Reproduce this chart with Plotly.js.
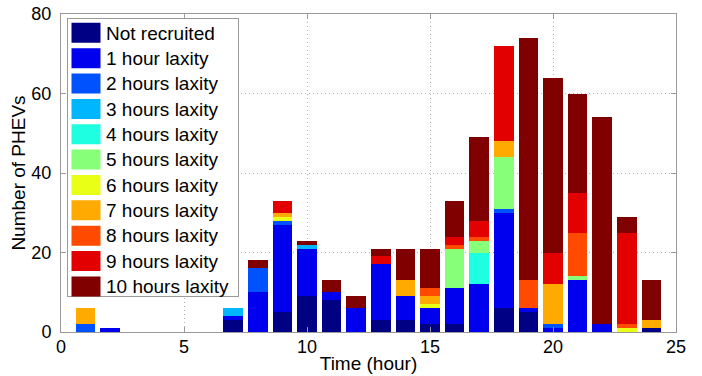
<!DOCTYPE html>
<html>
<head>
<meta charset="utf-8">
<script src="https://cdn.plot.ly/plotly-3.0.1.min.js"></script>
<style>
  html, body { margin: 0; padding: 0; background: #fff; }
  #chart { width: 702px; height: 376px; }
</style>
</head>
<body>
<div id="chart"></div>
<script>
// Hours 1..24
const hours = [1,2,3,4,5,6,7,8,9,10,11,12,13,14,15,16,17,18,19,20,21,22,23,24];

const seriesNames = ["Not recruited","1 hour laxity","2 hours laxity","3 hours laxity","4 hours laxity",
  "5 hours laxity","6 hours laxity","7 hours laxity","8 hours laxity","9 hours laxity","10 hours laxity"];

const notRecruited = [0,0,0,0,0,0,3,0,5,9,8,0,3,3,2,2,0,6,5,0,0,0,0,1];
const lax1  = [0,1,0,0,0,0,1,10,22,12,2,6,14,6,4,9,12,24,1,1,13,2,0,0];
const lax2  = [2,0,0,0,0,0,0,6,1,0,0,0,0,0,0,0,0,1,0,1,0,0,0,0];
const lax3  = [0,0,0,0,0,0,2,0,0,1,0,0,0,0,0,0,0,0,0,0,0,0,0,0];
const lax4  = [0,0,0,0,0,0,0,0,0,0,0,0,0,0,0,0,8,0,0,0,0,0,0,0];
const lax5  = [0,0,0,0,0,0,0,0,0,0,0,0,0,0,0,10,3,13,0,0,1,0,0,0];
const lax6  = [0,0,0,0,0,0,0,0,1,0,0,0,0,0,1,0,0,0,0,0,0,0,1,0];
const lax7  = [4,0,0,0,0,0,0,0,1,0,0,0,0,4,2,0,0,4,0,10,0,0,0,2];
const lax8  = [0,0,0,0,0,0,0,0,0,0,0,0,0,0,2,1,1,0,7,0,11,0,1,0];
const lax9  = [0,0,0,0,0,0,0,0,3,0,0,0,2,0,0,2,4,24,0,8,10,0,23,0];
const lax10 = [0,0,0,0,0,0,0,2,0,1,3,3,2,8,10,9,21,0,61,44,25,52,4,10];

const seriesValues = [notRecruited, lax1, lax2, lax3, lax4, lax5, lax6, lax7, lax8, lax9, lax10];

const colors = ["#000085","#0000EE","#0052FF","#00B6FF","#1EFFE2","#88FF78","#EAFF16",
  "#FFAA00","#FF4A00","#E20000","#800000"];

const xTicks = [0,5,10,15,20,25];
const yTicks = [0,20,40,60,80];

const traces = seriesNames.map((name, i) => ({
  type: "bar",
  name: name,
  x: hours,
  y: seriesValues[i],
  width: 0.8,
  marker: { color: colors[i], line: { width: 0 } },
  hoverinfo: "x+y+name"
}));

const FONT = "Liberation Sans, Arial, Helvetica, sans-serif";

const layout = {
  width: 702,
  height: 376,
  barmode: "stack",
  paper_bgcolor: "#fff",
  plot_bgcolor: "#fff",
  margin: { l: 61, r: 26, t: 14, b: 44, pad: 0 },
  font: { family: FONT, size: 18, color: "#000" },
  showlegend: true,
  legend: {
    x: 0.0065, y: 0.987, xanchor: "left", yanchor: "top",
    bgcolor: "#fff", bordercolor: "#9a9a9a", borderwidth: 1,
    font: { family: FONT, size: 17.2, color: "#000" },
    traceorder: "normal",
    itemwidth: 30
  },
  xaxis: {
    range: [0, 25],
    tickvals: xTicks,
    ticktext: xTicks.map(String),
    ticks: "inside", ticklen: 5, tickcolor: "#9a9a9a",
    showline: true, linecolor: "#9a9a9a", linewidth: 1, mirror: "ticks",
    showgrid: true, gridcolor: "#b4b4b4", griddash: "1px,3px", gridwidth: 1,
    zeroline: false,
    ticklabelstandoff: -2,
    tickfont: { family: FONT, size: 18, color: "#000" },
    title: { text: "Time (hour)", font: { family: FONT, size: 19, color: "#000" }, standoff: 1 }
  },
  yaxis: {
    range: [0, 80],
    tickvals: yTicks,
    ticktext: yTicks.map(String),
    ticks: "inside", ticklen: 5, tickcolor: "#9a9a9a",
    showline: true, linecolor: "#9a9a9a", linewidth: 1, mirror: "ticks",
    showgrid: true, gridcolor: "#b4b4b4", griddash: "1px,3px", gridwidth: 1,
    zeroline: false,
    ticklabelstandoff: 5,
    tickfont: { family: FONT, size: 18, color: "#000" },
    title: { text: "Number of PHEVs", font: { family: FONT, size: 19, color: "#000" }, standoff: 0 }
  }
};

function fixLegend() {
  const leg = document.querySelector("#chart .legend");
  if (!leg || leg.dataset.fixed) return;
  leg.dataset.fixed = "1";
  leg.querySelectorAll(".legendpoints path").forEach(p => {
    p.setAttribute("d", "M14.5,10H-14.5V-10H14.5Z");
    p.style.strokeWidth = "0px";
  });
  leg.querySelectorAll("text.legendtext").forEach(t => {
    t.style.fontSize = "19px";
  });
  leg.querySelectorAll(".traces").forEach(g => {
    const tr = g.getAttribute("transform") || "";
    const m = tr.match(/translate\(\s*([-\d.]+)[ ,]+([-\d.]+)\s*\)/);
    if (m) g.setAttribute("transform", "translate(" + m[1] + "," + (parseFloat(m[2]) - 4) + ")");
  });
  const bg = leg.querySelector("rect.bg");
  if (bg) {
    const x0 = parseFloat(bg.getAttribute("x") || "0");
    bg.setAttribute("x", x0 + 2);
    bg.setAttribute("width", 171);
    bg.setAttribute("height", 278);
  }
  // widen the legend clip so the larger text is not cut
  document.querySelectorAll("#chart clipPath").forEach(cp => {
    if ((cp.id || "").indexOf("legend") === 0) {
      cp.querySelectorAll("rect").forEach(r => {
        r.setAttribute("width", 220);
        r.setAttribute("height", 300);
      });
    }
  });
}

Plotly.newPlot("chart", traces, layout, { staticPlot: true, displayModeBar: false }).then(gd => {
  fixLegend();
  gd.on("plotly_afterplot", fixLegend);
});
</script>
</body>
</html>
